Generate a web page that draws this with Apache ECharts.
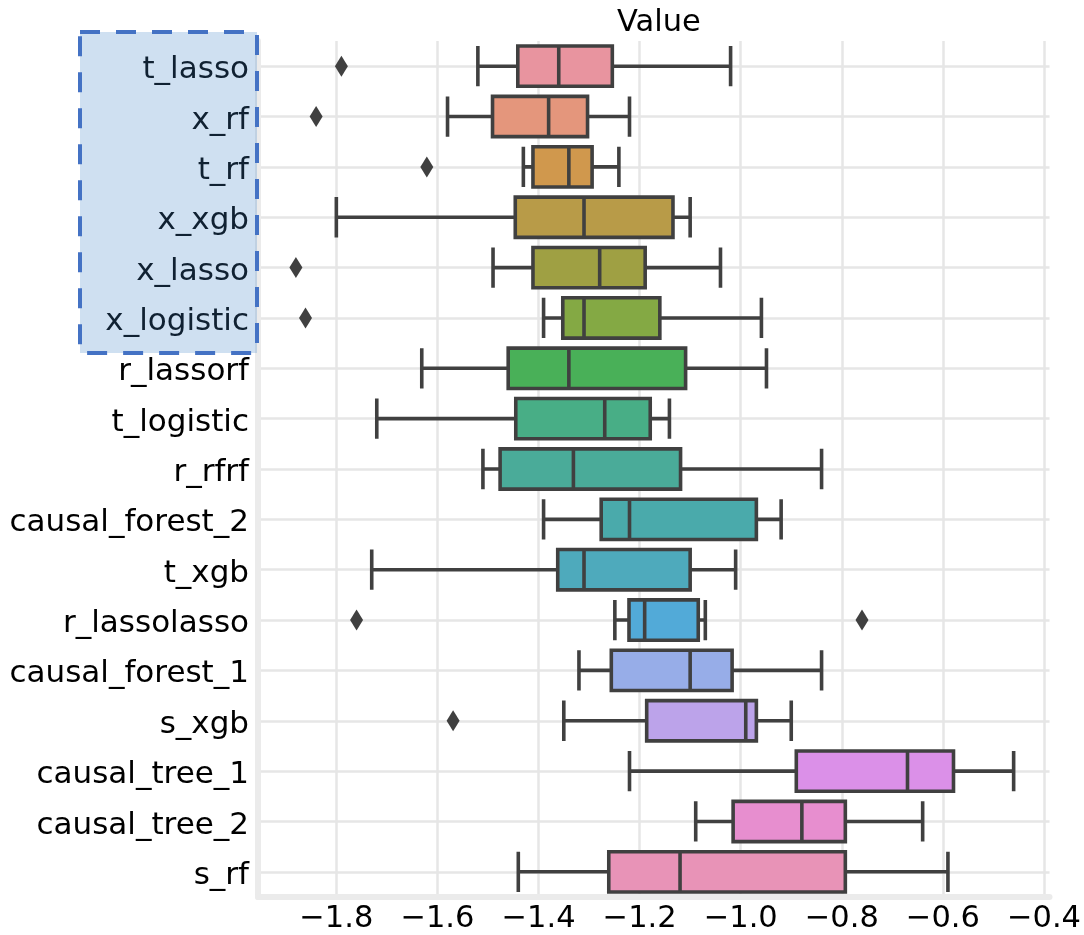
<!DOCTYPE html>
<html>
<head>
<meta charset="utf-8">
<script src="https://cdn.jsdelivr.net/npm/echarts@6/dist/echarts.min.js"></script>
<style>html,body{margin:0;padding:0;background:#fff;}#chart{width:1084px;height:935px;}</style>
</head>
<body>
<div id="chart"></div>
<script>
const categories = ['t_lasso','x_rf','t_rf','x_xgb','x_lasso','x_logistic','r_lassorf','t_logistic','r_rfrf','causal_forest_2','t_xgb','r_lassolasso','causal_forest_1','s_xgb','causal_tree_1','causal_tree_2','s_rf'];
// [lower whisker, Q1, median, Q3, upper whisker]
const boxValues = [
  [-1.520, -1.441, -1.360, -1.254, -1.020],
  [-1.580, -1.491, -1.380, -1.303, -1.220],
  [-1.430, -1.411, -1.340, -1.294, -1.241],
  [-1.800, -1.446, -1.310, -1.134, -1.100],
  [-1.490, -1.411, -1.279, -1.189, -1.040],
  [-1.390, -1.352, -1.310, -1.160, -0.959],
  [-1.631, -1.460, -1.340, -1.109, -0.949],
  [-1.720, -1.445, -1.269, -1.179, -1.141],
  [-1.510, -1.476, -1.331, -1.119, -0.840],
  [-1.390, -1.276, -1.220, -0.969, -0.920],
  [-1.730, -1.362, -1.310, -1.100, -1.010],
  [-1.249, -1.221, -1.190, -1.084, -1.070],
  [-1.320, -1.256, -1.100, -1.017, -0.840],
  [-1.350, -1.186, -0.990, -0.969, -0.900],
  [-1.220, -0.890, -0.670, -0.579, -0.460],
  [-1.089, -1.015, -0.879, -0.793, -0.640],
  [-1.440, -1.261, -1.120, -0.793, -0.590]
];
// outliers: [value, category]
const outlierValues = [-1.790, -1.840, -1.621, -1.880, -1.861, -1.760, -0.760, -1.569];
const outlierCats = ['t_lasso','x_rf','t_rf','x_lasso','x_logistic','r_lassolasso','r_lassolasso','s_xgb'];
const xTicks = [-1.8, -1.6, -1.4, -1.2, -1.0, -0.8, -0.6, -0.4];
const highlighted = ['t_lasso','x_rf','t_rf','x_xgb','x_lasso','x_logistic'];

const palette = ['#e8949f','#e4967c','#d0984d','#b89b48','#9fa043','#84a944','#49b058','#48ae86','#4aab99','#4aaaab','#4eaabc','#52aad8','#97ade8','#bca3ea','#db90e8','#e78ecf','#e893b7'];

const FONT = 'DejaVu Sans';
const chart = echarts.init(document.getElementById('chart'), null, {renderer: 'canvas'});

const option = {
  animation: false,
  backgroundColor: '#ffffff',
  title: {
    text: 'Value', left: 654, top: 3, textAlign: 'center',
    textStyle: {fontFamily: FONT, fontSize: 30.5, fontWeight: 'normal', color: '#000'}
  },
  grid: {left: 258, right: 34, top: 41, bottom: 36.5},
  xAxis: {
    type: 'value', min: -1.955, max: -0.389,
    axisLine: {show: true, lineStyle: {color: '#ebebeb', width: 6}},
    axisTick: {show: false, customValues: xTicks},
    axisLabel: {
      customValues: xTicks, fontFamily: FONT, fontSize: 30.5, color: '#000', margin: 7,
      formatter: v => (v < 0 ? '\u2212' : '') + Math.abs(v).toFixed(1)
    },
    splitLine: {show: true, lineStyle: {color: '#e6e6e6', width: 2.5}}
  },
  yAxis: {
    type: 'category', data: categories, inverse: true,
    axisLine: {show: true, lineStyle: {color: '#ebebeb', width: 6}},
    axisTick: {show: false, alignWithLabel: true},
    axisLabel: {fontFamily: FONT, fontSize: 31, color: '#000', margin: 9, verticalAlign: 'top', lineHeight: 8},
    splitLine: {show: true, alignWithLabel: true, lineStyle: {color: '#e6e6e6', width: 2.5}}
  },
  series: [
    {
      type: 'boxplot',
      boxWidth: ['80%', '80%'],
      itemStyle: {borderColor: '#404040', borderWidth: 3.6},
      data: boxValues.map((v, i) => ({value: v, itemStyle: {color: palette[i], borderColor: '#404040', borderWidth: 3.6}})),
      z: 3
    },
    {
      type: 'scatter',
      symbol: 'diamond', symbolSize: [13, 21],
      itemStyle: {color: '#404040', opacity: 1},
      data: outlierValues.map((v, i) => [v, outlierCats[i]]),
      z: 4
    }
  ]
};
chart.setOption(option);

// highlight box around selected labels
const yTop = chart.convertToPixel({yAxisIndex: 0}, highlighted[0]);
const yBot = chart.convertToPixel({yAxisIndex: 0}, highlighted[highlighted.length - 1]);
const band = chart.getModel().getComponent('yAxis', 0).axis.getBandWidth();
chart.setOption({
  graphic: [{
    type: 'rect', z: 100,
    shape: {x: 80, y: yTop - band / 2 - 9, width: 177, height: (yBot - yTop) + band + 19},
    style: {fill: 'rgba(63,131,199,0.25)', stroke: '#4472c4', lineWidth: 4, lineDash: [20, 16]}
  }]
});
</script>
</body>
</html>
